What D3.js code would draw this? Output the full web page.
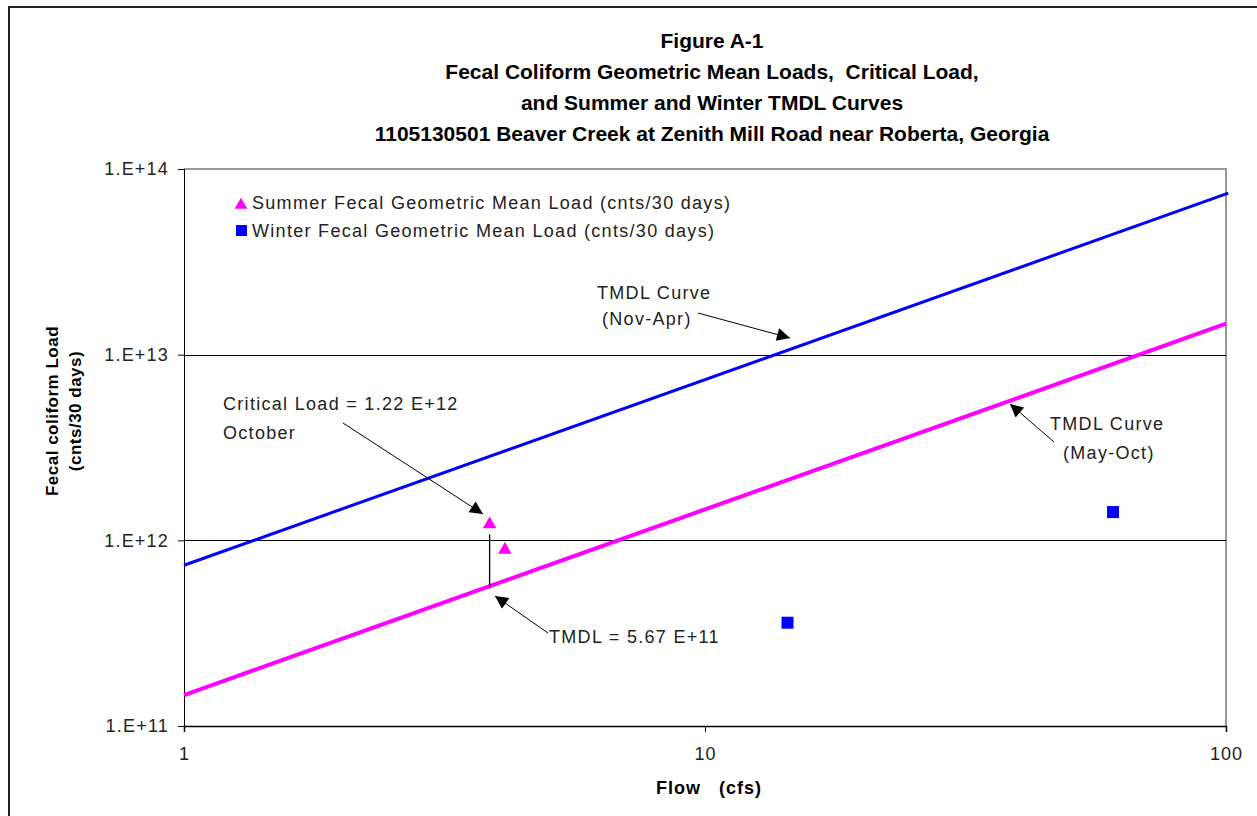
<!DOCTYPE html>
<html><head><meta charset="utf-8">
<script src="https://cdn.jsdelivr.net/npm/d3@7"></script>
<style>body{margin:0;background:#fff;}svg{display:block;font-family:"Liberation Sans",Arial,sans-serif;}</style>
</head><body>
<script>
// ---- data ----
const titleLines = ["Figure A-1","Fecal Coliform Geometric Mean Loads,  Critical Load,","and Summer and Winter TMDL Curves","1105130501 Beaver Creek at Zenith Mill Road near Roberta, Georgia"];
const xTicks = [1, 10, 100];
const yTicks = [1e11, 1e12, 1e13, 1e14];
const yTickLabels = ["1.E+11","1.E+12","1.E+13","1.E+14"];
const summerPoints = [[3.86, 1.22e12], [4.13, 8.9e11]];
const winterPoints = [[14.4, 3.6e11], [60.7, 1.42e12]];
const summerCurve = [[1, 1.468e11], [100, 1.468e13]];   // May-Oct TMDL
const winterCurve = [[1, 7.34e11], [101, 7.41e13]];     // Nov-Apr TMDL
const criticalFlow = 3.86, criticalLoad = 1.22e12, tmdlLoad = 5.67e11;
const legendLabels = ["Summer Fecal Geometric Mean Load (cnts/30 days)","Winter Fecal Geometric Mean Load (cnts/30 days)"];

const W = 1257, H = 816;
const FS = 18, LS = "1.3px";
const svg = d3.select("body").append("svg").attr("width", W).attr("height", H);
svg.append("rect").attr("width", W).attr("height", H).attr("fill", "#fff");
// outer frame
svg.append("path").attr("d", "M9,"+(H+5)+" V7 H"+(W+5)).attr("fill","none").attr("stroke","#222").attr("stroke-width",2);

const L = 184, R = 1226, T = 169, B = 726;
const x = d3.scaleLog().domain([1, 100]).range([L, R]);
const y = d3.scaleLog().domain([1e11, 1e14]).range([B, T]);

// title
svg.append("g").selectAll("text").data(titleLines).join("text")
  .attr("x", 712).attr("y", (d,i)=>47.5 + i*31).attr("text-anchor","middle")
  .attr("font-size", 21).attr("font-weight","bold").attr("fill","#000").attr("xml:space","preserve").text(d=>d);

// plot border (gray top/right)
svg.append("path").attr("d", `M${L},${T} H${R} V${B}`).attr("fill","none").attr("stroke","#999").attr("stroke-width",2);

// gridlines
svg.append("g").selectAll("line").data([1e12,1e13]).join("line")
  .attr("x1", L).attr("x2", R).attr("y1", d=>Math.round(y(d))+0.5).attr("y2", d=>Math.round(y(d))+0.5)
  .attr("stroke","#000").attr("stroke-width",1);

// axes
const yAxis = d3.axisLeft(y).tickValues(yTicks).tickFormat((d,i)=>yTickLabels[i]).tickSize(6).tickPadding(10);
const gy = svg.append("g").attr("transform", `translate(${L},0)`).call(yAxis);
gy.attr("font-size", 18).attr("font-family","Liberation Sans, Arial, sans-serif");
gy.selectAll("text").attr("fill","#222").attr("letter-spacing","1.2px").attr("dx","1px");
gy.select(".domain").attr("stroke","#000");
gy.selectAll(".tick line").attr("stroke","#000");

const xAxis = d3.axisBottom(x).tickValues(xTicks).tickFormat(d3.format("d")).tickSize(6).tickPadding(15);
const gx = svg.append("g").attr("transform", `translate(0,${B})`).call(xAxis);
gx.attr("font-size", 18).attr("font-family","Liberation Sans, Arial, sans-serif");
gx.selectAll("text").attr("fill","#222").attr("letter-spacing","1px");
gx.select(".domain").attr("stroke","#000").attr("stroke-width",1.5);
gx.selectAll(".tick line").attr("stroke","#000");

// axis titles
svg.append("text").attr("x", 709).attr("y", 794).attr("text-anchor","middle").attr("font-size",18)
  .attr("font-weight","bold").attr("letter-spacing","1px").attr("xml:space","preserve").text("Flow   (cfs)");
const yt = svg.append("text").attr("transform","translate(58,411) rotate(-90)").attr("text-anchor","middle")
  .attr("font-size",17).attr("font-weight","bold").attr("letter-spacing","0.5px");
yt.append("tspan").attr("x",0).attr("dy",0).text("Fecal coliform Load");
yt.append("tspan").attr("x",0).attr("dy",23).text("(cnts/30 days)");

// curves
const line = d3.line().x(d=>x(d[0])).y(d=>y(d[1]));
svg.append("path").datum(winterCurve).attr("d", line).attr("fill","none").attr("stroke","#0000ff").attr("stroke-width",3);
svg.append("path").datum(summerCurve).attr("d", line).attr("fill","none").attr("stroke","#ff00ff").attr("stroke-width",4);

// critical vertical line
svg.append("line").attr("x1", x(criticalFlow)).attr("x2", x(criticalFlow))
  .attr("y1", y(criticalLoad)+10).attr("y2", y(tmdlLoad)+2).attr("stroke","#000").attr("stroke-width",1.3);

// points
const tri = d3.symbol().type(d3.symbolTriangle).size(80);
svg.append("g").selectAll("path").data(summerPoints).join("path")
  .attr("d", tri).attr("transform", d=>`translate(${x(d[0])},${y(d[1])})`).attr("fill","#ff00ff");
svg.append("g").selectAll("rect").data(winterPoints).join("rect")
  .attr("x", d=>x(d[0])-6).attr("y", d=>y(d[1])-6).attr("width",12).attr("height",12).attr("fill","#0000ff");

// legend
const tri2 = d3.symbol().type(d3.symbolTriangle).size(70);
svg.append("path").attr("d", tri2).attr("transform","translate(241,205)").attr("fill","#ff00ff");
svg.append("rect").attr("x",236).attr("y",225).attr("width",11).attr("height",11).attr("fill","#0000ff");
svg.append("g").selectAll("text").data(legendLabels).join("text")
  .attr("x", 252).attr("y", (d,i)=>208.5 + i*28).attr("font-size",FS).attr("letter-spacing",LS).attr("fill","#222").text(d=>d);

// arrow marker
const defs = svg.append("defs");
defs.append("marker").attr("id","arr").attr("viewBox","0 0 10 10").attr("refX",10).attr("refY",5)
  .attr("markerWidth",16).attr("markerHeight",13).attr("markerUnits","userSpaceOnUse").attr("orient","auto")
  .append("path").attr("d","M0,0 L10,5 L0,10 Z").attr("fill","#000");

function annot(lines, from, to) {
  const t = svg.append("text").attr("font-size",FS).attr("letter-spacing",LS).attr("fill","#222");
  lines.forEach(l=>t.append("tspan").attr("x",l[1]).attr("y",l[2]).text(l[0]));
  svg.append("line").attr("x1",from[0]).attr("y1",from[1]).attr("x2",to[0]).attr("y2",to[1])
    .attr("stroke","#000").attr("stroke-width",1).attr("marker-end","url(#arr)");
}
annot([["Critical Load = 1.22 E+12",223,409.5],["October",223,438.5]], [343,423], [483,514]);
annot([["TMDL = 5.67 E+11",549,642.5]], [548,633], [495,596]);
annot([["TMDL Curve",597,298.5],["(Nov-Apr)",602,324.5]], [698,313], [790,338]);
annot([["TMDL Curve",1050,429.5],["(May-Oct)",1063,458.5]], [1054,442], [1010,404]);
</script>
</body></html>
